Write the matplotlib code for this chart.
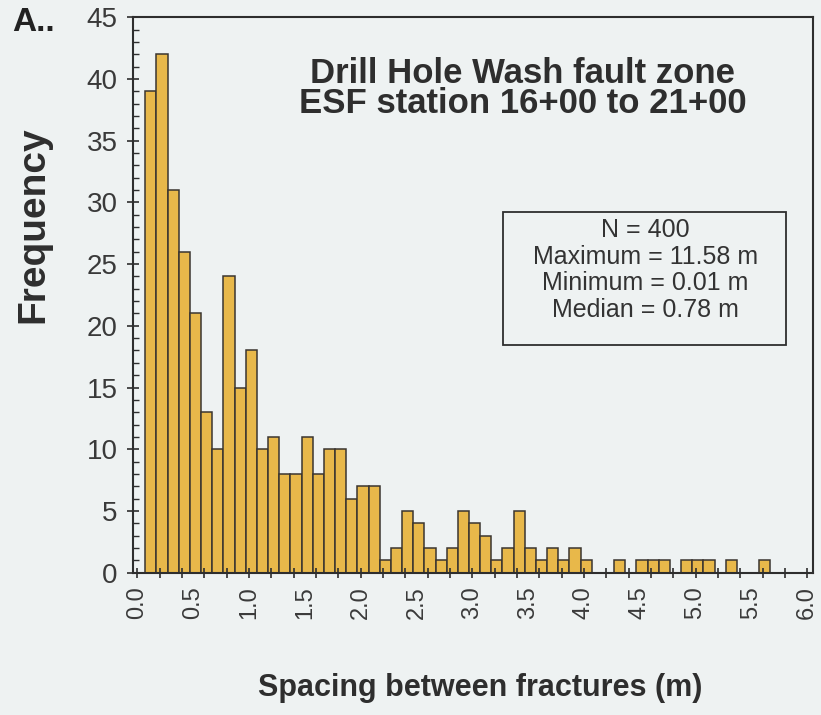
import numpy as np
import matplotlib
matplotlib.use("Agg")
import matplotlib.pyplot as plt
from matplotlib.ticker import MultipleLocator, FixedLocator
from matplotlib.patches import Rectangle

# histogram counts per 0.1 m bin
bin_start = np.round(np.arange(56) * 0.1 + 0.07, 3)
counts = [39, 42, 31, 26, 21, 13, 10, 24, 15, 18,
          10, 11, 8, 8, 11, 8, 10, 10, 6, 7,
          7, 1, 2, 5, 4, 2, 1, 2, 5, 4,
          3, 1, 2, 5, 2, 1, 2, 1, 2, 1,
          0, 0, 1, 0, 1, 1, 1, 0, 1, 1,
          1, 0, 1, 0, 0, 1]
xtick_vals = np.arange(0, 6.01, 0.5)
xtick_labels = [f"{v:.1f}" for v in xtick_vals]
stats_lines = ["N = 400", "Maximum = 11.58 m", "Minimum = 0.01 m", "Median = 0.78 m"]
title_lines = ["Drill Hole Wash fault zone", "ESF station 16+00 to 21+00"]

bg = "#EEF2F2"
ink = "#2e2e2e"
plt.rcParams["font.family"] = ["Liberation Sans", "DejaVu Sans"]

fig = plt.figure(figsize=(8.21, 7.15), dpi=100, facecolor=bg)
ax = fig.add_axes([0.162, 0.199, 0.828, 0.777], facecolor=bg)

ax.bar(bin_start, counts, width=0.1, align="edge", color="#E8B84A",
       edgecolor="#3a3530", linewidth=1.1)

ax.set_xlim(-0.04, 6.05)
ax.set_ylim(0, 45)

# y axis ticks
ax.yaxis.set_major_locator(MultipleLocator(5))
ax.yaxis.set_minor_locator(MultipleLocator(1))
ax.tick_params(axis="y", which="major", direction="inout", length=8, width=1.2,
               labelsize=20, labelcolor="#3a3a3a", color=ink, pad=7)
ax.tick_params(axis="y", which="minor", direction="in", length=4, width=1.0, color=ink)

# x axis: labels every 0.5, tick marks every 0.2
ax.set_xticks(xtick_vals)
ax.set_xticklabels(xtick_labels, rotation=90)
ax.xaxis.set_minor_locator(FixedLocator(np.round(np.arange(0, 6.01, 0.2), 2)))
ax.xaxis.remove_overlapping_locs = False
ax.tick_params(axis="x", which="major", length=0, labelsize=17,
               labelcolor="#3a3a3a", pad=10)
ax.tick_params(axis="x", which="minor", direction="inout", length=7, width=1.2, color=ink)

for sp in ax.spines.values():
    sp.set_color(ink)
    sp.set_linewidth(1.5)

ax.set_ylabel("Frequency", fontsize=28, fontweight="bold", color=ink)
ax.yaxis.set_label_coords(-0.147, 0.626)
ax.yaxis.label.set_va("center")
ax.set_xlabel("Spacing between fractures (m)", fontsize=22, fontweight="bold", color=ink)
ax.xaxis.set_label_coords(0.51, -0.207)
ax.xaxis.label.set_va("center")

ax.text(0.573, 0.872, "\n".join(title_lines), transform=ax.transAxes,
        ha="center", va="center", fontsize=25, fontweight="bold", color=ink,
        linespacing=0.88)

# statistics box
ax.add_patch(Rectangle((0.544, 0.410), 0.416, 0.239, transform=ax.transAxes,
                       facecolor="none", edgecolor=ink, linewidth=1.3))
ax.text(0.754, 0.545, "\n".join(stats_lines), transform=ax.transAxes,
        ha="center", va="center", fontsize=18, color="#333333", linespacing=1.15)

fig.text(0.015, 0.969, "A..", fontsize=24, fontweight="bold", color="#222222",
         ha="left", va="center")

fig.savefig("out.png", dpi=100, facecolor=bg)
